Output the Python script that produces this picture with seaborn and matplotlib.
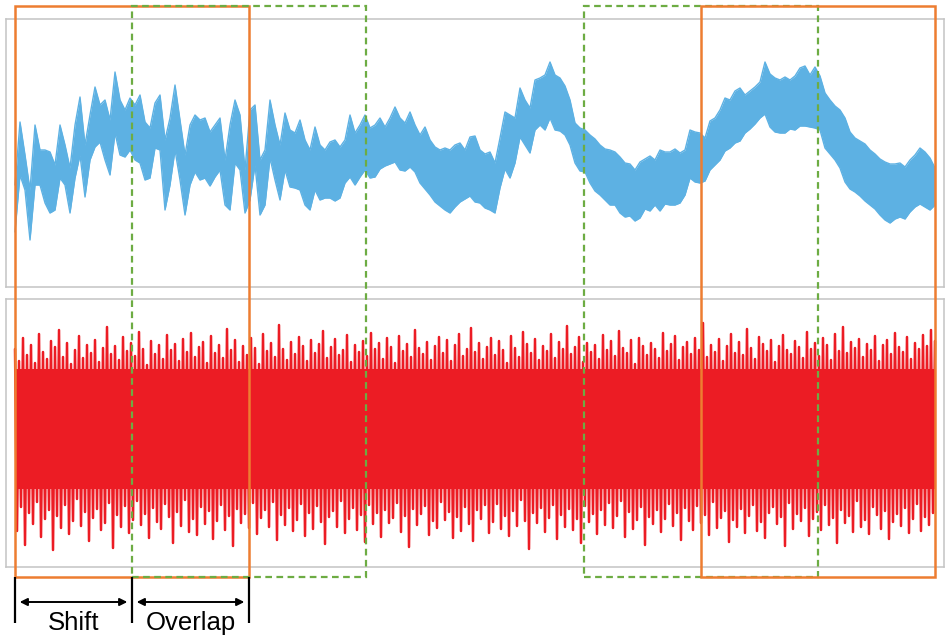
import numpy as np
import matplotlib
matplotlib.use("Agg")
import matplotlib.pyplot as plt
import matplotlib.transforms as mtransforms
from matplotlib.patches import Rectangle
import seaborn as sns

# sliding windows (s): window length 2 s, shift 1 s, overlap 1 s
win_len = 2.0
shift = 1.0
t_end = 7.863

# blue signal: upper / lower envelope (a.u.), read every ~0.043 s
blue_upper = [
    115, 178, 145, 110, 175, 150, 150, 148, 135, 175,
    155, 132, 175, 203, 155, 185, 213, 195, 200, 180,
    228, 200, 190, 202, 195, 205, 178, 172, 197, 205,
    160, 182, 215, 180, 145, 175, 185, 180, 182, 168,
    175, 182, 140, 175, 200, 185, 130, 190, 195, 140,
    150, 200, 175, 155, 187, 170, 167, 180, 160, 150,
    173, 155, 150, 158, 160, 153, 160, 185, 167, 175,
    185, 172, 175, 182, 173, 182, 193, 182, 177, 188,
    175, 165, 173, 160, 153, 150, 152, 150, 155, 157,
    150, 163, 164, 150, 146, 148, 137, 162, 188, 185,
    182, 212, 200, 192, 220, 222, 225, 238, 225, 222,
    214, 200, 177, 172, 170, 165, 161, 155, 151, 150,
    148, 143, 137, 136, 130, 138, 141, 144, 140, 150,
    148, 148, 151, 147, 150, 170, 168, 167, 162, 179,
    182, 190, 202, 200, 209, 212, 205, 209, 213, 218,
    238, 226, 222, 220, 223, 220, 224, 232, 234, 225,
    233, 224, 207, 200, 194, 190, 182, 168, 162, 159,
    156, 150, 146, 141, 138, 136, 136, 137, 133, 140,
    145, 152, 148, 142, 132,
]
blue_lower = [
    68, 125, 110, 60, 115, 115, 97, 87, 90, 122,
    115, 87, 122, 145, 103, 140, 153, 158, 140, 125,
    167, 145, 143, 150, 140, 137, 120, 122, 152, 150,
    90, 115, 150, 120, 85, 115, 128, 120, 122, 114,
    123, 130, 95, 90, 137, 130, 87, 100, 135, 85,
    95, 142, 120, 100, 130, 113, 112, 110, 95, 90,
    110, 100, 102, 102, 99, 102, 117, 123, 115, 123,
    130, 122, 123, 131, 134, 136, 138, 130, 129, 133,
    128, 117, 111, 105, 98, 94, 90, 87, 93, 98,
    101, 104, 98, 97, 92, 90, 87, 112, 131, 122,
    137, 163, 155, 147, 170, 175, 170, 182, 170, 169,
    165, 155, 137, 129, 128, 117, 109, 105, 100, 95,
    95, 87, 83, 84, 79, 82, 91, 89, 95, 89,
    96, 95, 95, 97, 105, 122, 118, 117, 119, 130,
    135, 140, 149, 152, 157, 159, 167, 171, 176, 182,
    186, 173, 168, 167, 167, 171, 170, 174, 174, 173,
    172, 170, 152, 146, 140, 132, 118, 111, 108, 104,
    99, 95, 91, 85, 80, 77, 81, 83, 81, 88,
    93, 96, 93, 90, 95,
]

# red signal: oscillation peaks and troughs (a.u.)
red_peaks = [
    84, 72, 95, 78, 88, 70, 99, 81, 74, 92,
    86, 103, 76, 90, 69, 83, 97, 75, 88, 80,
    93, 71, 85, 106, 79, 87, 73, 96, 82, 90,
    77, 101, 84, 68, 92, 79, 88, 74, 98, 83,
    89, 72, 94, 81, 100, 76, 86, 91, 70, 97,
    80, 88, 75, 104, 83, 93, 71, 87, 78, 95,
    85, 69, 99, 82, 90, 76, 108, 84, 73, 91,
    79, 96, 87, 72, 93, 80, 89, 102, 75, 86,
    94, 78, 83, 98, 71, 88, 81, 92, 77, 100,
    84, 90, 74, 95, 86, 70, 97, 82, 89, 76,
    103, 85, 79, 91, 73, 87, 96, 80, 93, 72,
    88, 99, 77, 84, 105, 81, 90, 74, 86, 95,
    78, 92, 83, 70, 97, 85, 76, 101, 89, 80,
    94, 73, 87, 82, 99, 75, 91, 84, 107, 79,
    86, 96, 71, 90, 81, 88, 74, 98, 83, 92,
    77, 102, 85, 80, 93, 69, 95, 87, 78, 90,
    84, 75, 100, 82, 89, 97, 73, 86, 91, 79,
    95, 83, 110, 76, 88, 81, 94, 72, 87, 99,
    80, 91, 78, 104, 85, 74, 96, 89, 82, 93,
    71, 87, 98, 83, 79, 92, 86, 75, 101, 84,
    90, 77, 95, 88, 73, 99, 82, 106, 80, 91,
    85, 94, 76, 89, 83, 97, 72, 88, 93, 79,
    100, 86, 81, 96, 74, 90, 84, 98, 87, 103,
    92,
]
red_troughs = [
    -98, -74, -112, -80, -91, -69, -104, -86, -77, -117,
    -83, -95, -72, -101, -88, -66, -93, -79, -108, -85,
    -76, -97, -90, -70, -115, -82, -94, -73, -100, -87,
    -68, -92, -81, -105, -75, -89, -96, -71, -84, -110,
    -79, -93, -67, -99, -86, -102, -74, -91, -78, -106,
    -88, -72, -97, -83, -113, -76, -90, -81, -95, -70,
    -101, -85, -77, -94, -69, -107, -82, -92, -75, -98,
    -87, -71, -103, -80, -96, -73, -89, -111, -84, -78,
    -94, -68, -100, -86, -75, -97, -82, -109, -72, -91,
    -80, -104, -77, -90, -85, -70, -99, -83, -114, -76,
    -92, -81, -73, -102, -88, -95, -69, -87, -79, -105,
    -84, -98, -74, -91, -108, -77, -86, -72, -100, -89,
    -71, -96, -83, -103, -78, -93, -67, -88, -116, -80,
    -90, -75, -99, -85, -72, -106, -82, -94, -76, -97,
    -86, -110, -73, -89, -81, -101, -77, -92, -70, -95,
    -83, -68, -104, -79, -96, -87, -74, -112, -84, -91,
    -77, -99, -86, -71, -93, -80, -107, -75, -88, -97,
    -73, -90, -82, -102, -69, -95, -85, -78, -109, -87,
    -94, -76, -100, -83, -72, -98, -89, -105, -80, -74,
    -91, -84, -113, -70, -96, -81, -88, -75, -103, -86,
    -79, -97, -72, -92, -85, -110, -77, -90, -83, -99,
    -68, -94, -87, -101, -74, -82, -96, -78, -106, -89,
    -81, -93, -75, -100, -86, -71, -98, -84, -92, -80,
]
red_core = (-56, 64)

blue = "#5DB1E3"
red = "#EC1C24"
orange = "#ED7D31"
green = "#6DAC43"
frame_gray = "#C4C4C4"

sns.set_theme(style="white")
plt.rcParams["font.family"] = ["Liberation Sans", "DejaVu Sans"]

W, H = 950, 641
fig = plt.figure(figsize=(W / 100, H / 100), dpi=100)
ax_top = fig.add_axes([6 / W, 1 - 287 / H, 938 / W, 268 / H])
ax_bot = fig.add_axes([6 / W, 1 - 567 / H, 938 / W, 268 / H])

# blue signal
t_blue = np.linspace(0, t_end, len(blue_upper))
ax_top.fill_between(t_blue, blue_lower, blue_upper, color=blue, lw=0)
sns.lineplot(x=t_blue, y=blue_upper, ax=ax_top, color=blue, lw=1.0, estimator=None)
sns.lineplot(x=t_blue, y=blue_lower, ax=ax_top, color=blue, lw=1.0, estimator=None)
ax_top.set_ylim(13, 281)

# red signal: peaks and troughs alternate
t_pk = np.linspace(0, t_end, len(red_peaks))
t_tr = (t_pk[:-1] + t_pk[1:]) / 2
t_red = np.empty(len(t_pk) + len(t_tr))
v_red = np.empty(len(t_red))
t_red[0::2] = t_pk
t_red[1::2] = t_tr
v_red[0::2] = red_peaks
v_red[1::2] = red_troughs
ax_bot.fill_between([0, t_end], red_core[0], red_core[1], color=red, lw=0)
sns.lineplot(x=t_red, y=v_red, ax=ax_bot, color=red, lw=1.8, estimator=None, sort=False)
ax_bot.set_ylim(-134, 134)

for ax in (ax_top, ax_bot):
    ax.set_xlim(-0.077, 7.94)
    ax.set_xticks([])
    ax.set_yticks([])
    ax.set_xlabel("")
    ax.set_ylabel("")
    ax.set_facecolor("white")
    for sp in ax.spines.values():
        sp.set_visible(True)
        sp.set_color(frame_gray)
        sp.set_linewidth(1.1)

# overlay for windows and annotations (x in time, y in figure fraction)
ax_ov = fig.add_axes([0, 0, 1, 1])
ax_ov.axis("off")
trans = mtransforms.blended_transform_factory(ax_top.transData, fig.transFigure)

y_win_top = 1 - 6 / H
y_win_bot = 1 - 577 / H
windows = [
    (0.0, orange, "-"),
    (shift, green, (0, (3, 2))),
    (t_end - win_len - shift, green, (0, (3, 2))),
    (t_end - win_len, orange, "-"),
]
for start, col, ls in windows:
    lw = 1.8 if ls == "-" else 1.6
    ax_ov.add_patch(Rectangle((start, y_win_bot), win_len, y_win_top - y_win_bot,
                              transform=trans, fill=False, edgecolor=col,
                              lw=lw, ls=ls, clip_on=False))

# shift / overlap markers
y_tick_bot = 1 - 623 / H
for t in (0.0, shift, 2 * shift):
    ax_ov.plot([t, t], [y_win_bot, y_tick_bot], transform=trans, color="black",
               lw=1.6, clip_on=False, solid_capstyle="butt")

y_arrow = 1 - 602 / H
for a, b in [(0.04, shift - 0.04), (shift + 0.04, 2 * shift - 0.04)]:
    ax_ov.annotate("", xy=(b, y_arrow), xytext=(a, y_arrow), xycoords=trans, textcoords=trans,
                   arrowprops=dict(arrowstyle="<|-|>", color="black", lw=1.4,
                                   mutation_scale=11, shrinkA=0, shrinkB=0))

y_text = 1 - 630 / H
ax_ov.text(shift / 2, y_text, "Shift", transform=trans, ha="center", va="baseline",
           fontsize=18.5, color="black")
ax_ov.text(1.5 * shift, y_text, "Overlap", transform=trans, ha="center", va="baseline",
           fontsize=18.5, color="black")

fig.savefig("out.png", dpi=100)
